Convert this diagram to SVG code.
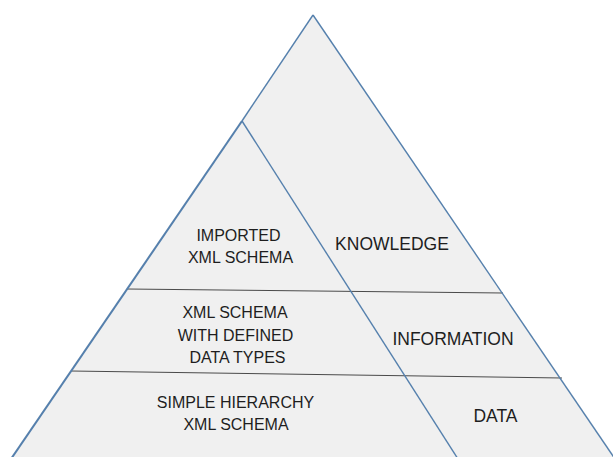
<svg xmlns="http://www.w3.org/2000/svg" width="613" height="457" viewBox="0 0 613 457">
<style>
.t{font-family:"Liberation Sans",Arial,sans-serif;fill:#1e1e1e;text-anchor:middle}
.s{font-size:16px}
.b{font-size:17.5px}
.edge{stroke:#5580ad;fill:none;stroke-width:1.4}
.sep{stroke:#4a4a4a;fill:none;stroke-width:1}
</style>
<rect width="613" height="457" fill="#ffffff"/>
<g id="pyramid">
<polygon points="313,15 615,457 11,457" fill="#f0f0f0"/>
</g>
<g id="connectors">
<line class="sep" x1="127" y1="289" x2="503" y2="293"/>
<line class="sep" x1="71" y1="371" x2="562" y2="378"/>
<line class="edge" x1="313" y1="15" x2="615" y2="459"/>
<line class="edge" x1="313" y1="15" x2="242" y2="121"/>
<line class="edge" x1="242" y1="121" x2="11" y2="459" style="stroke-width:2"/>
<line class="edge" x1="242" y1="121" x2="458" y2="459"/>
</g>
<g id="knowledge">
<text class="t s" x="238.5" y="241">IMPORTED</text>
<text class="t s" x="240.5" y="263">XML SCHEMA</text>
<text class="t b" x="392" y="250">KNOWLEDGE</text>
</g>
<g id="information">
<text class="t s" x="235" y="318">XML SCHEMA</text>
<text class="t s" x="235.5" y="341">WITH DEFINED</text>
<text class="t s" x="237.5" y="363">DATA TYPES</text>
<text class="t b" x="453" y="345">INFORMATION</text>
</g>
<g id="data">
<text class="t s" x="235.5" y="408">SIMPLE HIERARCHY</text>
<text class="t s" x="236" y="430">XML SCHEMA</text>
<text class="t b" x="495.5" y="422">DATA</text>
</g>
</svg>
